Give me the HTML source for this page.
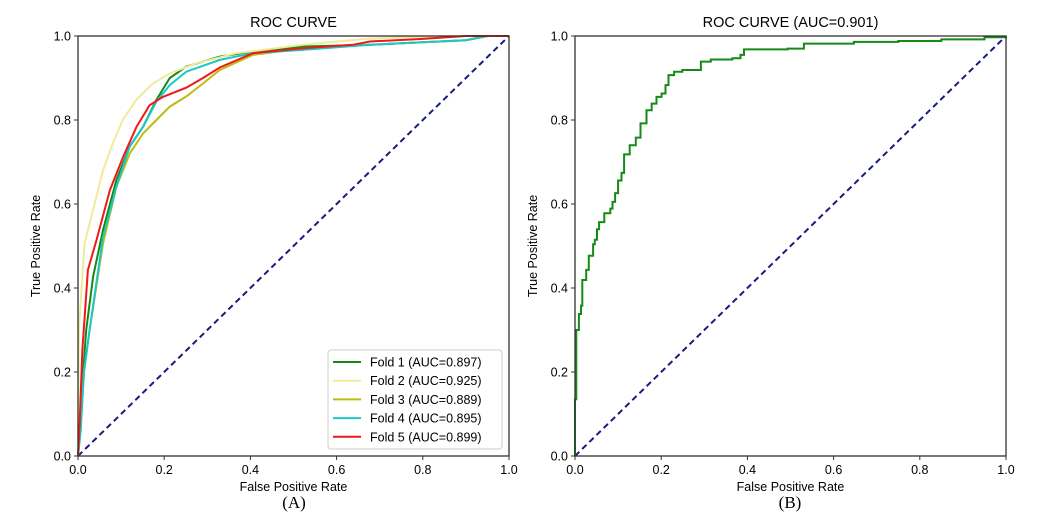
<!DOCTYPE html>
<html><head><meta charset="utf-8"><style>
html,body{margin:0;padding:0;background:#fff;width:1055px;height:520px;overflow:hidden}
svg{display:block;font-family:"Liberation Sans",sans-serif}
</style></head><body>
<svg id="s" width="1055" height="520">
<text x="294" y="508" font-family="Liberation Serif,serif" font-size="17" text-anchor="middle">(A)</text>
<text x="790" y="508" font-family="Liberation Serif,serif" font-size="17" text-anchor="middle">(B)</text>
</svg>
<script>
const ticks=[0,0.2,0.4,0.6,0.8,1.0];
const tickLabels=["0.0","0.2","0.4","0.6","0.8","1.0"];
const foldNames=["Fold 1 (AUC=0.897)","Fold 2 (AUC=0.925)","Fold 3 (AUC=0.889)","Fold 4 (AUC=0.895)","Fold 5 (AUC=0.899)"];
const foldColors=["#168a16","#f0eb9a","#bcbc12","#1ac8c8","#f01818"];
const fold1Fpr=[0,0.005,0.012,0.019,0.035,0.058,0.089,0.12,0.151,0.182,0.213,0.251,0.329,0.406,0.522,0.677,0.8,0.9,0.95,1];
const fold1Tpr=[0,0.06,0.2,0.3,0.427,0.538,0.657,0.737,0.784,0.848,0.9,0.927,0.951,0.963,0.975,0.979,0.985,0.99,1,1];
const fold2Fpr=[0,0.001,0.002,0.015,0.035,0.058,0.081,0.104,0.135,0.174,0.213,0.275,0.367,0.522,0.677,0.8,0.9,1];
const fold2Tpr=[0,0.15,0.3,0.506,0.586,0.68,0.745,0.8,0.848,0.887,0.911,0.935,0.959,0.979,0.994,0.998,1,1];
const fold3Fpr=[0,0.006,0.014,0.027,0.058,0.089,0.12,0.151,0.182,0.213,0.251,0.29,0.329,0.406,0.522,0.677,0.8,0.9,0.95,1];
const fold3Tpr=[0,0.06,0.2,0.3,0.506,0.641,0.72,0.768,0.8,0.832,0.856,0.887,0.919,0.955,0.971,0.979,0.985,0.99,1,1];
const fold4Fpr=[0,0.006,0.014,0.027,0.058,0.089,0.12,0.151,0.182,0.213,0.251,0.329,0.406,0.522,0.677,0.8,0.9,0.95,1];
const fold4Tpr=[0,0.06,0.2,0.3,0.522,0.641,0.737,0.784,0.844,0.883,0.915,0.943,0.959,0.967,0.979,0.985,0.99,1,1];
const fold5Fpr=[0,0.004,0.01,0.023,0.043,0.074,0.105,0.136,0.166,0.197,0.251,0.29,0.329,0.406,0.522,0.638,0.677,0.8,0.9,1];
const fold5Tpr=[0,0.08,0.25,0.443,0.514,0.633,0.713,0.784,0.835,0.855,0.877,0.9,0.925,0.959,0.971,0.979,0.987,0.993,1,1];
const bFpr=[0,0.003,0.009,0.014,0.017,0.026,0.032,0.042,0.046,0.051,0.056,0.068,0.082,0.087,0.093,0.1,0.108,0.114,0.127,0.141,0.152,0.166,0.178,0.189,0.201,0.21,0.217,0.23,0.249,0.292,0.315,0.365,0.384,0.392,0.493,0.531,0.647,0.75,0.85,0.95,1];
const bTpr=[0.135,0.30,0.338,0.358,0.419,0.443,0.477,0.504,0.515,0.540,0.557,0.578,0.589,0.605,0.626,0.656,0.674,0.718,0.740,0.758,0.792,0.823,0.839,0.855,0.863,0.883,0.907,0.915,0.919,0.939,0.944,0.947,0.955,0.968,0.970,0.982,0.986,0.988,0.992,0.997,1];
const foldF=[fold1Fpr,fold2Fpr,fold3Fpr,fold4Fpr,fold5Fpr];
const foldT=[fold1Tpr,fold2Tpr,fold3Tpr,fold4Tpr,fold5Tpr];
const NS="http://www.w3.org/2000/svg";
const svg=document.getElementById('s');
function mk(tag,attrs,parent){const e=document.createElementNS(NS,tag);for(const k in attrs)e.setAttribute(k,attrs[k]);(parent||svg).appendChild(e);return e;}
function panel(x0,title,id){
  const W=431,H=420,y0=36;
  const sx=v=>x0+v*W, sy=v=>y0+H-v*H;
  const g=mk('g',{});
  
  
  const t=mk('text',{x:x0+W/2,y:27,'text-anchor':'middle','font-size':14.5},g);t.textContent=title;
  
  ticks.forEach((v,i)=>{
    mk('line',{x1:sx(v),x2:sx(v),y1:y0+H,y2:y0+H+4,stroke:'#333'},g);
    let a=mk('text',{x:sx(v),y:y0+H+18,'text-anchor':'middle','font-size':12.5},g);a.textContent=tickLabels[i];
    
    mk('line',{x1:x0-4,x2:x0,y1:sy(v),y2:sy(v),stroke:'#333'},g);
    let b=mk('text',{x:x0-7,y:sy(v)+4.5,'text-anchor':'end','font-size':12.5},g);b.textContent=tickLabels[i];
    
  });
  let xl=mk('text',{x:x0+W/2,y:y0+H+35,'text-anchor':'middle','font-size':12.5},g);xl.textContent='False Positive Rate';
  
  let yl=mk('text',{x:0,y:0,'text-anchor':'middle','font-size':12.5,transform:`translate(${x0-38},${y0+H/2}) rotate(-90)`},g);yl.textContent='True Positive Rate';
  
  const d=mk('line',{x1:sx(0),y1:sy(0),x2:sx(1),y2:sy(1),stroke:'#1a1a80','stroke-width':2,'stroke-dasharray':'6,4'},g);
  
  return {g,sx,sy,x0,y0,W,H};
}
const A=panel(78,'ROC CURVE','panel-a');
const B=panel(575,'ROC CURVE (AUC=0.901)','panel-b');
foldF.forEach((f,k)=>{
  const pts=f.map((v,i)=>A.sx(v).toFixed(1)+','+A.sy(foldT[k][i]).toFixed(1)).join(' ');
  const p=mk('polyline',{points:pts,fill:'none',stroke:foldColors[k],'stroke-width':2},A.g);
  
  
});
{
  let pts=[[B.sx(0),B.sy(0)]];
  for(let i=0;i<bFpr.length;i++){
    const prev=i>0?bTpr[i-1]:0;
    pts.push([B.sx(bFpr[i]),B.sy(prev)]);
    pts.push([B.sx(bFpr[i]),B.sy(bTpr[i])]);
  }
  const p=mk('polyline',{points:pts.map(q=>q[0].toFixed(1)+','+q[1].toFixed(1)).join(' '),fill:'none',stroke:'#168a16','stroke-width':2},B.g);
  
  
}
[A,B].forEach(P=>{
  const f=mk('rect',{x:P.x0,y:P.y0,width:P.W,height:P.H,fill:'none',stroke:'#333','stroke-width':1.3},P.g);
  
});
const lg=mk('g',{},A.g);


mk('rect',{x:328,y:350,width:174,height:99,rx:3,fill:'#fff',stroke:'#ccc'},lg);
foldNames.forEach((n,i)=>{
  const y=362+i*18.7;
  const e=mk('g',{},lg);
  
  
  mk('line',{x1:333,x2:361,y1:y,y2:y,stroke:foldColors[i],'stroke-width':2},e);
  const t=mk('text',{x:370,y:y+4.5,'font-size':12.5},e);t.textContent=n;
});
</script>
</body></html>
